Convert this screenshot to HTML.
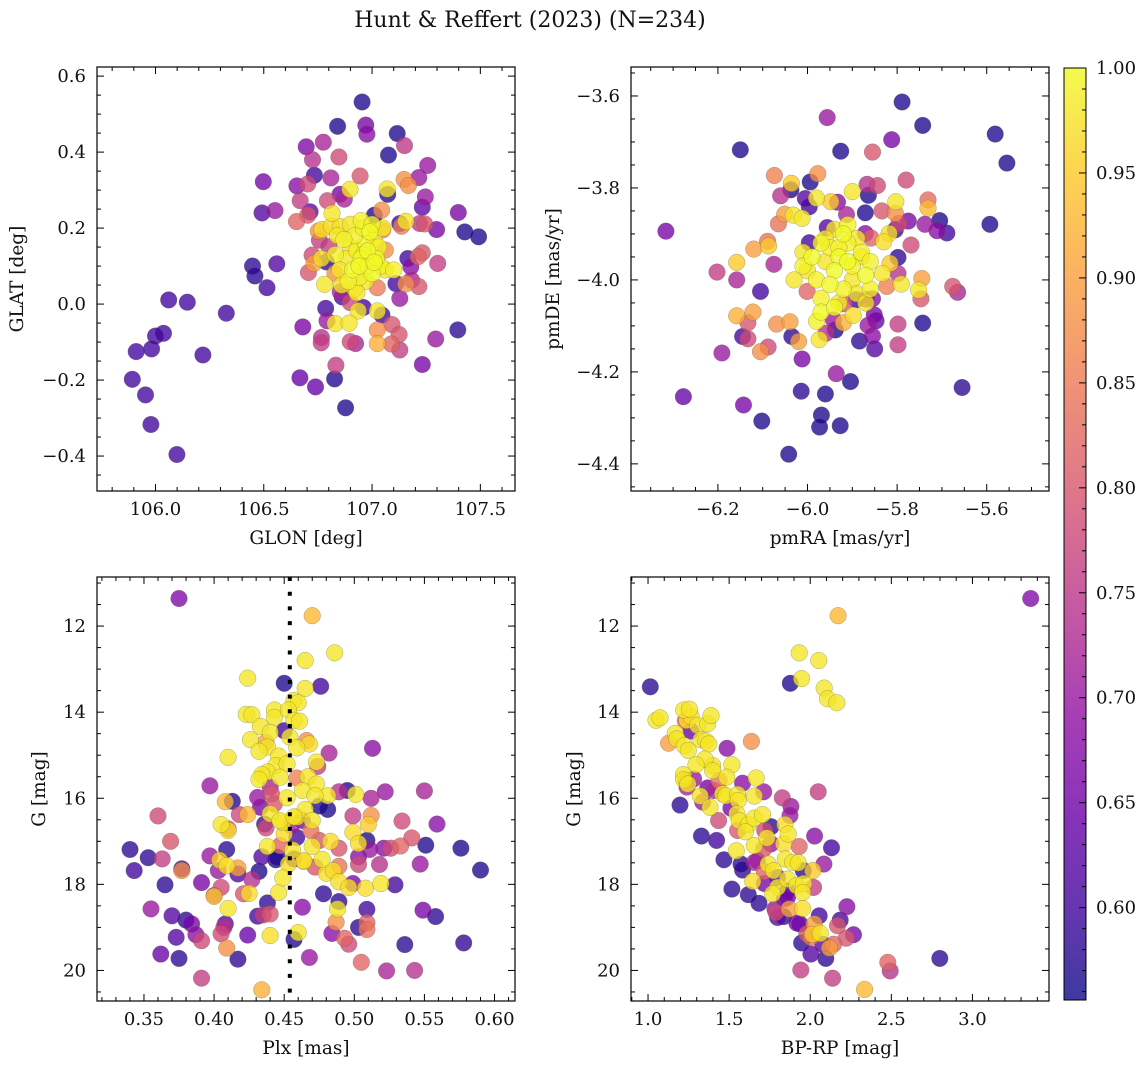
<!DOCTYPE html>
<html><head><meta charset="utf-8"><style>
html,body{margin:0;padding:0;background:#fff;}
svg{display:block;font-family:"DejaVu Serif","Liberation Serif",serif;}
</style></head><body>
<svg id="fig" width="1148" height="1067" viewBox="0 0 1148 1067" xmlns="http://www.w3.org/2000/svg">
<defs>
<linearGradient id="cbg" x1="0" y1="1" x2="0" y2="0">
<stop offset="0" stop-color="#0d0887" stop-opacity="0.8"/><stop offset="0.1" stop-color="#41049d" stop-opacity="0.8"/><stop offset="0.2" stop-color="#6a00a8" stop-opacity="0.8"/><stop offset="0.3" stop-color="#8f0da4" stop-opacity="0.8"/><stop offset="0.4" stop-color="#b12a90" stop-opacity="0.8"/><stop offset="0.5" stop-color="#cc4778" stop-opacity="0.8"/><stop offset="0.6" stop-color="#e16462" stop-opacity="0.8"/><stop offset="0.7" stop-color="#f2844b" stop-opacity="0.8"/><stop offset="0.8" stop-color="#fca636" stop-opacity="0.8"/><stop offset="0.9" stop-color="#fcce25" stop-opacity="0.8"/><stop offset="1" stop-color="#f0f921" stop-opacity="0.8"/>
</linearGradient>
</defs>
<text x="530" y="27" font-size="22" text-anchor="middle" fill="#111">Hunt &amp; Reffert (2023) (N=234)</text>
</svg>
<script>
// ---- Panel 1: GLON / GLAT ----
const p1x=[106.954,106.841,106.971,106.976,107.116,106.696,106.775,107.150,107.076,106.725,106.847,107.257,106.734,106.810,106.945,107.216,107.148,107.168,106.498,106.653,106.703,106.898,107.070,107.072,106.852,106.872,106.794,106.668,107.246,107.232,106.492,106.552,107.398,106.714,106.703,106.651,106.815,107.011,107.044,107.220,107.243,107.128,107.136,107.156,107.298,107.428,107.492,106.752,106.769,106.812,106.853,107.049,106.757,106.801,106.723,106.766,106.732,106.789,106.706,106.829,107.061,107.165,107.179,107.232,107.213,107.303,107.110,107.156,107.182,107.216,107.128,107.024,106.781,106.862,106.853,106.899,106.786,106.792,106.960,106.936,107.046,107.024,106.830,106.894,106.680,107.092,107.125,107.024,107.024,107.089,107.128,106.766,106.765,106.899,106.924,107.396,107.294,107.232,106.833,106.667,106.827,106.739,106.878,106.448,106.560,106.459,106.515,106.061,106.147,106.327,106.037,106.000,105.911,105.982,106.219,105.893,105.954,105.979,106.099,
106.93,106.95,106.97,106.90,106.98,106.92,106.96,106.99,107.01,107.03,107.02,106.88,106.87,106.91,106.94,106.97,107.00,107.04,107.06,107.10,106.85,106.89,106.92,106.95,106.90,106.84,106.83,107.05,107.00,106.98,106.94,106.96,107.01,106.86,106.93];
const p1y=[0.532,0.468,0.471,0.447,0.449,0.414,0.426,0.417,0.392,0.380,0.387,0.365,0.339,0.332,0.337,0.333,0.328,0.312,0.322,0.311,0.316,0.302,0.303,0.289,0.289,0.276,0.272,0.272,0.282,0.255,0.240,0.246,0.241,0.243,0.234,0.217,0.239,0.234,0.247,0.212,0.211,0.212,0.205,0.218,0.196,0.190,0.177,0.192,0.196,0.205,0.204,0.195,0.168,0.151,0.129,0.120,0.107,0.111,0.083,0.081,0.142,0.120,0.098,0.135,0.125,0.107,0.054,0.053,0.063,0.046,0.015,0.043,0.052,0.019,0.032,0.004,-0.011,-0.044,-0.009,-0.018,-0.029,-0.018,-0.051,-0.050,-0.060,-0.054,-0.080,-0.068,-0.104,-0.105,-0.121,-0.088,-0.102,-0.099,-0.104,-0.068,-0.092,-0.159,-0.161,-0.194,-0.197,-0.218,-0.273,0.100,0.106,0.074,0.043,0.011,0.005,-0.024,-0.077,-0.084,-0.125,-0.118,-0.134,-0.198,-0.239,-0.317,-0.396,
0.14,0.12,0.16,0.15,0.10,0.18,0.20,0.19,0.17,0.15,0.12,0.12,0.17,0.09,0.07,0.06,0.08,0.10,0.09,0.09,0.09,0.06,0.04,0.22,0.21,0.18,0.13,0.20,0.21,0.14,0.10,0.13,0.11,0.05,0.03];
const p1p=[0.57,0.57,0.66,0.68,0.57,0.67,0.72,0.75,0.57,0.74,0.78,0.70,0.60,0.72,0.80,0.70,0.88,0.88,0.66,0.68,0.78,0.98,0.98,0.58,0.66,0.72,0.78,0.76,0.70,0.63,0.62,0.70,0.66,0.63,0.80,0.82,0.98,0.57,0.88,0.75,0.80,0.60,0.85,0.98,0.66,0.57,0.57,0.88,0.97,0.97,0.97,0.88,0.76,0.76,0.78,0.97,0.90,0.58,0.80,0.88,0.88,0.60,0.68,0.80,0.82,0.76,0.60,0.88,0.72,0.80,0.70,0.85,0.98,0.60,0.72,0.78,0.60,0.70,0.60,0.98,0.60,0.98,0.98,0.98,0.66,0.80,0.80,0.88,0.92,0.82,0.76,0.74,0.76,0.78,0.72,0.58,0.70,0.66,0.76,0.64,0.57,0.64,0.57,0.58,0.62,0.58,0.60,0.6,0.6,0.6,0.6,0.6,0.6,0.6,0.6,0.6,0.6,0.6,0.6,
0.99,1.0,0.99,0.98,1.0,0.99,0.99,1.0,0.98,0.99,1.0,0.98,0.99,1.0,0.99,0.98,1.0,0.99,0.98,0.99,0.98,0.99,0.98,0.99,0.98,0.98,0.99,0.98,0.99,1.0,1.0,0.99,1.0,0.98,0.98];

// ---- Panel 2: pmRA / pmDE ----
const p2x=[-5.789,-5.956,-5.743,-5.581,-5.812,-6.150,-5.926,-5.855,-5.555,-6.074,-5.977,-5.994,-6.036,-6.037,-5.780,-5.867,-5.844,-5.864,-6.060,-6.005,-5.980,-5.996,-5.948,-5.933,-5.900,-5.803,-5.731,-5.731,-5.871,-5.834,-5.804,-5.913,-6.051,-6.032,-6.012,-6.065,-5.775,-5.738,-5.705,-5.711,-5.689,-5.593,-6.316,-5.796,-5.804,-5.818,-5.830,-5.769,-6.089,-6.087,-6.120,-5.996,-5.956,-5.871,-5.858,-6.158,-6.075,-6.202,-6.158,-6.105,-5.798,-5.816,-5.833,-5.798,-5.745,-5.791,-5.752,-5.676,-5.665,-5.747,-5.823,-6.001,-5.919,-5.891,-5.869,-5.855,-6.158,-6.122,-6.133,-6.069,-6.039,-5.920,-5.898,-5.851,-5.847,-5.942,-5.938,-5.865,-5.855,-5.850,-5.798,-5.798,-5.743,-6.145,-6.133,-6.035,-6.020,-5.974,-5.959,-5.884,-6.105,-6.088,-6.191,-6.012,-5.936,-5.904,-6.014,-5.960,-5.655,-6.277,-6.143,-6.102,-5.969,-5.973,-5.927,-6.042,
-5.95,-5.93,-5.91,-5.96,-5.94,-5.90,-5.88,-5.92,-5.94,-5.97,-5.99,-6.00,-5.98,-5.95,-5.92,-5.90,-5.87,-5.86,-5.89,-5.91,-5.96,-6.01,-6.03,-5.97,-5.93,-5.89,-5.86,-5.88,-5.93,-5.91,-5.97,-5.98,-5.94,-6.01,-5.87];
const p2y=[-3.613,-3.647,-3.664,-3.683,-3.695,-3.717,-3.720,-3.722,-3.746,-3.773,-3.769,-3.787,-3.790,-3.804,-3.783,-3.792,-3.795,-3.816,-3.817,-3.823,-3.822,-3.841,-3.830,-3.831,-3.808,-3.830,-3.826,-3.844,-3.854,-3.850,-3.855,-3.858,-3.857,-3.859,-3.866,-3.878,-3.872,-3.879,-3.871,-3.893,-3.898,-3.879,-3.894,-3.877,-3.891,-3.899,-3.917,-3.924,-3.916,-3.926,-3.933,-3.919,-3.886,-3.899,-3.909,-3.962,-3.966,-3.983,-4.000,-4.025,-3.951,-3.964,-3.986,-3.986,-3.997,-4.009,-4.022,-4.014,-4.027,-4.041,-4.014,-4.025,-4.052,-4.043,-4.042,-4.041,-4.078,-4.070,-4.093,-4.096,-4.091,-4.093,-4.077,-4.076,-4.089,-4.087,-4.109,-4.099,-4.122,-4.150,-4.096,-4.141,-4.094,-4.123,-4.128,-4.123,-4.134,-4.130,-4.116,-4.133,-4.156,-4.146,-4.159,-4.172,-4.204,-4.221,-4.242,-4.248,-4.234,-4.254,-4.272,-4.307,-4.294,-4.320,-4.317,-4.379,
-3.93,-3.95,-3.92,-3.96,-3.98,-3.97,-3.94,-3.90,-3.89,-3.92,-3.95,-3.98,-4.00,-4.01,-4.02,-4.00,-3.99,-3.96,-3.91,-3.88,-3.91,-3.97,-4.00,-4.04,-4.05,-4.03,-4.02,-3.95,-3.93,-3.96,-4.07,-4.09,-4.06,-3.94,-4.05];
const p2p=[0.57,0.70,0.57,0.57,0.66,0.57,0.57,0.80,0.57,0.86,0.88,0.57,0.95,0.57,0.78,0.74,0.78,0.57,0.74,0.62,0.98,0.60,0.95,0.68,0.98,0.98,0.83,0.93,0.57,0.80,0.88,0.72,0.90,0.98,0.98,0.84,0.66,0.70,0.57,0.68,0.60,0.57,0.66,0.78,0.60,0.97,0.97,0.78,0.84,0.95,0.90,0.60,0.62,0.68,0.82,0.95,0.72,0.76,0.72,0.60,0.58,0.95,0.98,0.74,0.90,0.98,0.98,0.80,0.72,0.80,0.86,0.82,0.80,0.60,0.66,0.68,0.92,0.90,0.80,0.88,0.90,0.92,0.97,0.66,0.64,0.70,0.57,0.70,0.68,0.62,0.76,0.76,0.57,0.60,0.78,0.58,0.90,0.98,0.74,0.58,0.88,0.78,0.70,0.66,0.70,0.57,0.58,0.57,0.58,0.64,0.66,0.57,0.57,0.57,0.57,0.57,
0.99,1.0,0.99,0.98,1.0,0.99,0.99,1.0,0.98,0.99,1.0,0.98,0.99,1.0,0.99,0.98,1.0,0.99,0.98,0.99,0.98,0.99,0.98,0.99,0.98,0.98,0.99,0.98,0.99,1.0,1.0,0.99,1.0,0.98,0.98];

// ---- Panel 3: Plx / G ----
const p3x=[0.375,0.470,0.486,0.465,0.424,0.450,0.476,0.465,0.513,0.482,0.410,0.397,0.522,0.550,0.489,0.495,0.512,0.501,0.481,0.408,0.413,0.431,0.433,0.475,0.481,0.360,0.418,0.424,0.499,0.512,0.534,0.559,0.510,0.405,0.410,0.410,0.436,0.437,0.499,0.541,0.369,0.551,0.576,0.521,0.526,0.533,0.509,0.511,0.489,0.503,0.483,0.340,0.353,0.363,0.397,0.409,0.404,0.434,0.444,0.438,0.343,0.377,0.377,0.403,0.409,0.417,0.417,0.432,0.427,0.503,0.503,0.518,0.547,0.590,0.472,0.489,0.480,0.485,0.464,0.477,0.365,0.391,0.405,0.400,0.400,0.421,0.425,0.446,0.449,0.489,0.499,0.496,0.508,0.519,0.529,0.478,0.489,0.488,0.509,0.463,0.438,0.410,0.355,0.549,0.558,0.370,0.380,0.384,0.431,0.435,0.440,0.408,0.407,0.405,0.424,0.440,0.460,0.457,0.487,0.503,0.509,0.509,0.484,0.493,0.496,0.373,0.387,0.391,0.362,0.375,0.417,0.409,0.468,0.505,0.536,0.578,0.523,0.543,0.391,0.434,
0.440,0.441,0.443,0.449,0.459,0.465,0.470,0.469,0.475,0.470,0.459,0.450,0.447,0.457,0.464,0.453,0.456,0.463,0.455,0.445,
0.423,0.427,0.443,0.443,0.457,0.460,0.453,0.457,0.461,0.433,0.440,0.450,0.454,0.426,0.437,0.438,0.432,0.459,0.466,0.468,0.446,0.444,0.452,0.473,0.474,0.438,0.434,0.432,0.447,0.459,0.467,0.473,0.463,0.472,0.452,0.440,0.447,0.457];
const p3y=[11.36,11.76,12.62,12.80,13.21,13.33,13.40,13.45,14.84,14.95,15.05,15.71,15.85,15.83,15.85,15.82,16.00,15.91,15.94,16.08,16.07,15.98,16.21,16.18,16.26,16.41,16.38,16.38,16.41,16.40,16.53,16.60,16.61,16.61,16.75,16.71,16.60,16.69,16.79,16.92,17.00,17.09,17.16,17.16,17.16,17.11,16.98,17.19,17.16,17.05,17.00,17.19,17.38,17.41,17.34,17.19,17.44,17.36,17.43,17.12,17.68,17.64,17.68,17.68,17.57,17.62,17.76,17.70,17.89,17.36,17.54,17.54,17.53,17.67,17.60,17.58,17.74,17.68,17.47,17.42,18.01,17.96,18.07,18.26,18.28,18.22,18.21,18.19,17.85,17.94,17.98,18.07,18.09,17.98,18.01,18.22,18.40,18.57,18.58,18.53,18.43,18.56,18.57,18.60,18.75,18.73,18.83,18.92,18.74,18.71,18.69,18.92,19.00,19.15,19.18,19.19,19.12,19.28,18.88,19.00,18.89,19.05,19.14,19.25,19.39,19.23,19.17,19.31,19.62,19.72,19.74,19.48,19.70,19.81,19.40,19.36,20.01,20.00,20.18,20.45,
15.74,15.90,16.13,16.56,16.44,16.26,16.52,16.75,16.98,17.12,16.91,16.83,17.10,17.41,17.45,17.53,17.20,16.52,16.64,17.37,
14.05,14.06,13.95,14.12,13.73,13.78,13.95,14.19,14.21,14.33,14.47,14.43,14.58,14.64,14.70,14.81,14.91,14.83,14.66,14.74,15.02,15.24,15.20,15.16,15.26,15.39,15.45,15.56,15.51,15.53,15.50,15.67,15.82,15.94,15.99,16.36,16.52,16.43];
const p3p=[0.67,0.93,0.98,0.98,0.98,0.57,0.60,0.98,0.68,0.72,0.98,0.70,0.70,0.72,0.74,0.57,0.72,0.98,0.98,0.93,0.57,0.70,0.66,0.57,0.57,0.78,0.78,0.93,0.76,0.88,0.78,0.68,0.95,0.98,0.97,0.80,0.60,0.78,0.97,0.80,0.80,0.57,0.57,0.68,0.78,0.82,0.57,0.70,0.80,0.97,0.97,0.58,0.58,0.76,0.70,0.58,0.96,0.62,0.57,0.98,0.60,0.60,0.88,0.70,0.97,0.90,0.62,0.57,0.74,0.68,0.78,0.74,0.70,0.57,0.80,0.84,0.97,0.97,0.97,0.98,0.58,0.66,0.78,0.72,0.95,0.80,0.97,0.98,0.98,0.97,0.66,0.97,0.97,0.98,0.60,0.58,0.58,0.98,0.60,0.68,0.58,0.98,0.70,0.66,0.58,0.62,0.58,0.66,0.60,0.76,0.80,0.62,0.74,0.78,0.64,0.97,0.98,0.57,0.88,0.58,0.82,0.84,0.68,0.82,0.78,0.62,0.68,0.78,0.64,0.58,0.58,0.88,0.70,0.82,0.58,0.58,0.72,0.74,0.76,0.92,
0.72,0.80,0.80,0.98,0.98,0.98,0.98,0.84,0.80,0.98,0.60,0.97,0.82,0.60,0.97,0.97,0.98,0.66,0.70,0.57,
0.98,0.98,0.98,0.98,0.98,0.98,0.98,0.98,0.98,0.98,0.98,0.60,0.98,0.98,0.90,0.98,0.98,0.98,0.88,0.97,0.98,0.98,0.98,0.98,0.76,0.98,0.98,0.98,0.98,0.86,0.98,0.98,0.98,0.98,0.98,0.98,0.98,0.98];

// ---- Panel 4: BP-RP / G ----
const p4x=[3.359,2.172,1.932,2.053,1.947,1.877,2.086,2.107,2.164,1.014,1.637,1.487,1.197,2.049,1.828,1.881,1.875,2.027,2.131,2.084,1.329,1.423,1.468,1.517,1.618,1.684,1.583,1.758,1.713,1.583,2.226,2.185,2.267,2.222,2.119,2.096,2.004,1.942,2.138,1.947,2.799,2.478,2.493,2.335,1.799,1.782,1.840,1.871,1.953,2.055,2.025,1.936,2.014,2.062,2.168,
1.234,1.281,1.240,1.368,1.409,1.337,1.439,1.511,1.435,1.552,1.719,1.758,1.713,1.675,1.717,1.655,1.799,1.717,1.860,1.932,1.957,2.021,1.860,1.789,1.918,1.979,2.144,2.004,2.076,1.836,1.265,1.230,1.573,
1.049,1.074,1.127,1.168,1.178,1.220,1.255,1.240,1.265,1.306,1.368,1.388,1.224,1.248,1.326,1.357,1.374,1.351,1.296,1.218,1.220,1.246,1.398,1.398,1.517,1.485,1.667,1.322,1.382,1.460,1.480,1.552,1.556,1.655,1.548,1.562,1.620,1.655,1.706,1.600,1.655,1.544,1.733,1.741,1.774,1.844,1.864,1.836,1.846,1.891,1.926,2.016,1.645,1.799,1.768,1.860,1.916,1.959,1.953];
const p4y=[11.36,11.76,12.62,12.80,13.22,13.33,13.44,13.69,13.78,13.41,14.68,14.84,16.16,15.85,15.99,16.19,16.40,16.88,17.15,17.53,16.88,16.98,17.43,18.11,18.24,18.44,17.67,16.66,15.85,15.65,18.52,18.83,19.17,19.25,19.48,19.72,19.62,19.99,20.18,19.36,19.72,19.81,20.01,20.44,18.77,18.57,18.34,18.57,18.56,18.73,18.92,18.92,19.16,19.14,18.96,
15.59,15.55,15.74,15.76,15.82,16.09,15.59,16.23,16.52,16.75,16.75,17.06,17.18,17.45,17.70,17.49,17.84,17.98,18.15,17.12,17.68,18.07,18.30,18.65,18.90,19.15,19.39,19.23,19.39,18.75,14.44,14.20,17.53,
14.19,14.13,14.72,14.49,14.62,13.95,13.93,14.19,14.10,14.31,14.27,14.08,14.78,14.89,14.64,14.67,14.74,15.09,15.22,15.45,15.57,15.67,15.36,15.24,15.22,15.51,15.53,15.95,16.21,15.90,15.94,15.91,16.05,15.95,16.36,16.52,16.61,16.46,16.38,16.78,17.10,17.22,16.92,17.53,17.68,16.61,16.83,17.06,17.41,17.49,17.50,17.68,17.93,18.07,18.22,17.88,18.03,17.98,18.19];
const p4p=[0.67,0.93,0.98,0.98,0.98,0.57,0.98,0.98,0.98,0.58,0.88,0.68,0.58,0.76,0.76,0.70,0.70,0.68,0.60,0.70,0.58,0.60,0.58,0.58,0.58,0.58,0.58,0.58,0.70,0.68,0.68,0.60,0.66,0.80,0.90,0.58,0.62,0.76,0.76,0.58,0.58,0.82,0.74,0.93,0.62,0.70,0.62,0.90,0.97,0.60,0.90,0.62,0.95,0.98,0.80,
0.74,0.70,0.72,0.66,0.72,0.70,0.84,0.66,0.78,0.80,0.78,0.70,0.80,0.66,0.82,0.72,0.62,0.66,0.60,0.82,0.58,0.76,0.66,0.78,0.66,0.80,0.82,0.84,0.62,0.58,0.64,0.82,0.58,
0.98,0.98,0.90,0.98,0.98,0.98,0.98,0.97,0.97,0.98,0.98,0.98,0.98,0.98,0.98,0.98,0.98,0.98,0.98,0.98,0.98,0.98,0.98,0.97,0.98,0.98,0.98,0.98,0.98,0.98,0.98,0.98,0.98,0.98,0.98,0.98,0.98,0.98,0.98,0.98,0.98,0.98,0.98,0.98,0.98,0.97,0.98,0.97,0.98,0.98,0.98,0.95,0.97,0.98,0.98,0.98,0.98,0.98,0.98];

const cbTicks=[0.60,0.65,0.70,0.75,0.80,0.85,0.90,0.95,1.00];
const plxRef=[0.454];
const VMIN=0.556, VMAX=1.0;

const NS="http://www.w3.org/2000/svg";
const svg=document.getElementById('fig');
function mk(tag,attrs,parent){const e=document.createElementNS(NS,tag);for(const k in attrs)e.setAttribute(k,attrs[k]);(parent||svg).appendChild(e);return e;}
const stops=[[0,[13,8,135]],[0.1,[65,4,157]],[0.2,[106,0,168]],[0.3,[143,13,164]],[0.4,[177,42,144]],[0.5,[204,71,120]],[0.6,[225,100,98]],[0.7,[242,132,75]],[0.8,[252,166,54]],[0.9,[252,206,37]],[1,[240,249,33]]];
function cmap(p){let t=(p-VMIN)/(VMAX-VMIN);t=Math.max(0,Math.min(1,t));
 for(let i=1;i<stops.length;i++){if(t<=stops[i][0]){const a=stops[i-1],b=stops[i],f=(t-a[0])/(b[0]-a[0]);
 return 'rgb('+a[1].map((v,j)=>Math.round(v+(b[1][j]-v)*f)).join(',')+')';}}return 'rgb(240,249,33)';}
function fmt(v,d){return (v<0?'\u2212':'')+Math.abs(v).toFixed(d);}

function panel(o){
 const g=mk('g',{});
 
 
 const sx=v=>o.x0+(v-o.xd[0])/(o.xd[1]-o.xd[0])*(o.x1-o.x0);
 const sy=o.inv?(v=>o.y0+(v-o.yd[0])/(o.yd[1]-o.yd[0])*(o.y1-o.y0)):(v=>o.y1-(v-o.yd[0])/(o.yd[1]-o.yd[0])*(o.y1-o.y0));
 const idx=o.xs.map((_,i)=>i).sort((a,b)=>o.ps[a]-o.ps[b]);
 const pg=mk('g',{},g);
 
 
 idx.forEach(i=>{const c=mk('circle',{cx:sx(o.xs[i]).toFixed(1),cy:sy(o.ys[i]).toFixed(1),r:8.3,fill:cmap(o.ps[i]),'fill-opacity':0.78,stroke:'rgba(90,90,60,0.5)','stroke-width':0.5},pg);
  
  });
 if(o.vline){o.vline.forEach(v=>{const l=mk('line',{x1:sx(v),x2:sx(v),y1:o.y0,y2:o.y1,stroke:'#000','stroke-width':4,'stroke-dasharray':'4 10.7'},g);
  
  });}
 const f=mk('rect',{x:o.x0,y:o.y0,width:o.x1-o.x0,height:o.y1-o.y0,fill:'none',stroke:'#000','stroke-width':1.2},g);
 
 
 const tg=mk('g',{stroke:'#000','stroke-width':1},g);
 for(let v=Math.ceil(o.xd[0]/o.xmin)*o.xmin;v<=o.xd[1];v+=o.xmin){const X=sx(v),maj=Math.abs(v/o.xmaj-Math.round(v/o.xmaj))<1e-6,L=maj?7:4;
  mk('line',{x1:X,x2:X,y1:o.y1,y2:o.y1-L},tg);mk('line',{x1:X,x2:X,y1:o.y0,y2:o.y0+L},tg);}
 for(let v=Math.ceil(o.yd[0]/o.ymin-1e-9)*o.ymin;v<=o.yd[1];v+=o.ymin){const Y=sy(v),maj=Math.abs(v/o.ymaj-Math.round(v/o.ymaj))<1e-6,L=maj?7:4;
  mk('line',{x1:o.x0,x2:o.x0+L,y1:Y,y2:Y},tg);mk('line',{x1:o.x1,x2:o.x1-L,y1:Y,y2:Y},tg);}
 o.xt.forEach(v=>{const t=mk('text',{x:sx(v),y:o.y1+24,'font-size':18,'text-anchor':'middle',fill:'#111'},g);t.textContent=fmt(v,o.xdec);
  
  });
 o.yt.forEach(v=>{const t=mk('text',{x:o.x0-11,y:sy(v)+6,'font-size':18,'text-anchor':'end',fill:'#111'},g);t.textContent=fmt(v,o.ydec);
  
  });
 const xl=mk('text',{x:(o.x0+o.x1)/2,y:o.y1+53,'font-size':18.5,'text-anchor':'middle',fill:'#111'},g);xl.textContent=o.xlab;
 
 
 const yl=mk('text',{x:0,y:0,'font-size':18.5,'text-anchor':'middle',fill:'#111',transform:'translate('+o.ylx+','+((o.y0+o.y1)/2)+') rotate(-90)'},g);yl.textContent=o.ylab;
 
 
}
panel({name:'glon-glat-panel',x0:97,x1:515,y0:67,y1:491,xd:[105.73,107.66],yd:[-0.492,0.624],xs:p1x,ys:p1y,ps:p1p,xmaj:0.5,xmin:0.1,ymaj:0.2,ymin:0.05,xt:[106.0,106.5,107.0,107.5],yt:[-0.4,-0.2,0.0,0.2,0.4,0.6],xdec:1,ydec:1,xlab:'GLON [deg]',ylab:'GLAT [deg]',ylx:23});
panel({name:'propermotion-panel',x0:631,x1:1049,y0:67,y1:491,xd:[-6.394,-5.461],yd:[-4.459,-3.537],xs:p2x,ys:p2y,ps:p2p,xmaj:0.2,xmin:0.05,ymaj:0.2,ymin:0.05,xt:[-6.2,-6.0,-5.8,-5.6],yt:[-4.4,-4.2,-4.0,-3.8,-3.6],xdec:1,ydec:1,xlab:'pmRA [mas/yr]',ylab:'pmDE [mas/yr]',ylx:559});
panel({name:'parallax-g-panel',x0:97,x1:515,y0:577,y1:1001,xd:[0.3165,0.6146],yd:[10.86,20.71],inv:true,xs:p3x,ys:p3y,ps:p3p,xmaj:0.05,xmin:0.01,ymaj:2,ymin:0.5,xt:[0.35,0.40,0.45,0.50,0.55,0.60],yt:[12,14,16,18,20],xdec:2,ydec:0,xlab:'Plx [mas]',ylab:'G [mag]',ylx:45,vline:plxRef});
panel({name:'cmd-panel',x0:631,x1:1049,y0:577,y1:1001,xd:[0.895,3.472],yd:[10.86,20.71],inv:true,xs:p4x,ys:p4y,ps:p4p,xmaj:0.5,xmin:0.1,ymaj:2,ymin:0.5,xt:[1.0,1.5,2.0,2.5,3.0],yt:[12,14,16,18,20],xdec:1,ydec:0,xlab:'BP-RP [mag]',ylab:'G [mag]',ylx:580});

const cb=mk('g',{});


const CT=68,CB=1000,CX0=1064,CX1=1086;
const cy=v=>CB-(v-VMIN)/(VMAX-VMIN)*(CB-CT);
mk('rect',{x:CX0,y:CT,width:CX1-CX0,height:CB-CT,fill:'url(#cbg)',stroke:'#000','stroke-width':1},cb);
for(let k=56;k<=100;k++){const v=k/100;if(v<VMIN)continue;const Y=cy(v),maj=k%5===0;mk('line',{x1:CX1,x2:CX1-(maj?7:4),y1:Y,y2:Y,stroke:'#000','stroke-width':1},cb);}
cbTicks.forEach(v=>{const t=mk('text',{x:CX1+10,y:cy(v)+6,'font-size':18,fill:'#111'},cb);t.textContent=v.toFixed(2);
 
 });
</script>
</body></html>
